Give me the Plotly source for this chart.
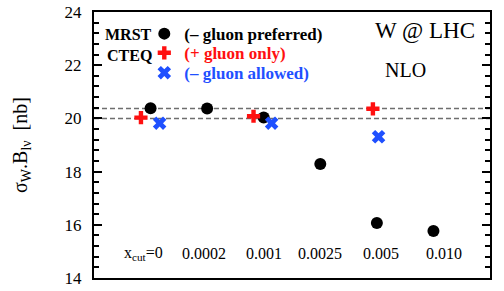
import plotly.graph_objects as go

# ---- data ----
cut_labels = ["x<sub>cut</sub>=0", "0.0002", "0.001", "0.0025", "0.005", "0.010"]
label_pos = [-0.12, 0.94, 2.01, 2.99, 4.08, 5.18]
label_y = 14.94

mrst_x = [0, 1, 2, 3, 4, 5]
mrst_y = [20.38, 20.37, 20.03, 18.29, 16.07, 15.77]

cteq_plus_x = [-0.17, 1.82, 3.93]
cteq_plus_y = [20.03, 20.08, 20.36]

cteq_minus_x = [0.16, 2.14, 4.03]
cteq_minus_y = [19.82, 19.82, 19.31]

ref_lines = [20.37, 20.0]

RED = "#ff1010"
BLUE = "#1f50ff"
FONT = "Liberation Serif"

fig = go.Figure()
fig.add_trace(go.Scatter(x=mrst_x, y=mrst_y, mode="markers", name="(– gluon preferred)",
                         marker=dict(symbol="circle", size=12, color="black"), legend="legend"))
fig.add_trace(go.Scatter(x=cteq_plus_x, y=cteq_plus_y, mode="markers", name="(+ gluon only)",
                         marker=dict(symbol="cross", size=11, color=RED), legend="legend2"))
fig.add_trace(go.Scatter(x=cteq_minus_x, y=cteq_minus_y, mode="markers", name="(– gluon allowed)",
                         marker=dict(symbol="x", size=12, color=BLUE), legend="legend3"))

for v in ref_lines:
    fig.add_hline(y=v, line=dict(color="#6e6e6e", width=1.5, dash="5px,3px"), layer="below")

for lab, xp in zip(cut_labels, label_pos):
    fig.add_annotation(x=xp, y=label_y, text=lab, showarrow=False, xanchor="center", yanchor="middle",
                       font=dict(family=FONT, size=16, color="black"))

fig.add_annotation(xref="paper", yref="paper", x=0.1515, y=0.917, text="<b>MRST</b>", showarrow=False,
                   xanchor="right", yanchor="middle", font=dict(family=FONT, size=16, color="black"))
fig.add_annotation(xref="paper", yref="paper", x=0.1515, y=0.835, text="<b>CTEQ</b>", showarrow=False,
                   xanchor="right", yanchor="middle", font=dict(family=FONT, size=16, color="black"))
fig.add_annotation(xref="paper", yref="paper", x=0.705, y=0.9286, text="W @ LHC", showarrow=False,
                   xanchor="left", yanchor="middle", font=dict(family=FONT, size=23, color="black"))
fig.add_annotation(xref="paper", yref="paper", x=0.730, y=0.782, text="NLO", showarrow=False,
                   xanchor="left", yanchor="middle", font=dict(family=FONT, size=20, color="black"))

def leg(y, color):
    return dict(x=0.127, y=y, xanchor="left", yanchor="middle", bgcolor="rgba(0,0,0,0)",
                font=dict(family=FONT, size=17, color=color, weight="bold"),
                itemwidth=30, borderwidth=0)

fig.update_layout(
    width=504, height=291,
    margin=dict(l=94, r=14, t=12, b=13, autoexpand=False),
    plot_bgcolor="white", paper_bgcolor="white",
    showlegend=True,
    legend=leg(0.917, "black"),
    legend2=leg(0.845, RED),
    legend3=leg(0.77, BLUE),
    xaxis=dict(range=[-1, 6], showticklabels=False, ticks="", showgrid=False, zeroline=False,
               showline=True, linecolor="black", linewidth=2, mirror=True, automargin=False),
    yaxis=dict(range=[14, 24], tick0=14, dtick=2, ticks="inside", ticklen=8, tickwidth=1.5,
               tickcolor="black", showgrid=False, zeroline=False, automargin=False,
               showline=True, linecolor="black", linewidth=2, mirror="ticks",
               ticklabelstandoff=7,
               minor=dict(dtick=0.4, ticks="inside", ticklen=5, tickwidth=1.5, tickcolor="black", showgrid=False),
               tickfont=dict(family=FONT, size=17, color="black"),
               title=dict(text="σ<sub>W</sub>.B<sub>lν</sub>  [nb]", standoff=32,
                          font=dict(family=FONT, size=20, color="black"))),
)

fig.write_html("out.html", post_script="document.body.style.margin='0';",
               config={"displayModeBar": False})
